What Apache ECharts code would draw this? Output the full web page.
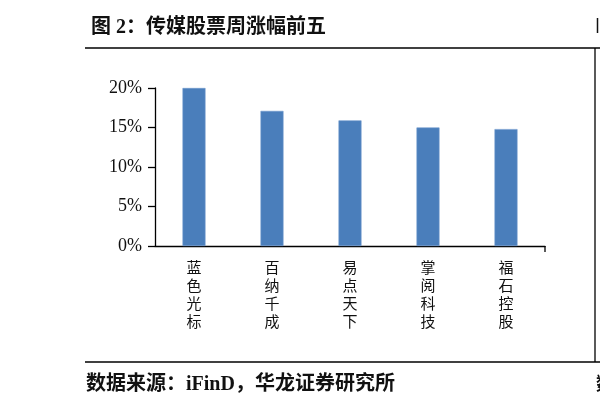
<!DOCTYPE html>
<html>
<head>
<meta charset="utf-8">
<script src="https://cdn.jsdelivr.net/npm/echarts@6/dist/echarts.min.js"></script>
<style>html,body{margin:0;padding:0;background:#fff;}#c{width:600px;height:410px;}</style>
</head>
<body>
<div id="c"></div>
<script>
var categories = ['蓝色光标', '百纳千成', '易点天下', '掌阅科技', '福石控股'];
var gains = [20.0, 17.1, 15.9, 15.0, 14.8];
var yTicks = [0, 5, 10, 15, 20];

var serif = '"Liberation Serif", "Noto Sans CJK SC", serif';
var chart = echarts.init(document.getElementById('c'), null, {renderer: 'canvas'});
var gridLeft = 155, gridRight = 55, gridTop = 88, gridBottom = 164;
chart.setOption({
  animation: false,
  backgroundColor: '#fff',
  title: {
    text: '图 2：传媒股票周涨幅前五',
    left: 86, top: 13,
    textStyle: {fontFamily: serif, fontSize: 20, fontWeight: 'bold', color: '#111'}
  },
  grid: {left: gridLeft, right: gridRight, top: gridTop, bottom: gridBottom, containLabel: false},
  xAxis: {
    type: 'category',
    data: categories,
    axisLine: {lineStyle: {color: '#000', width: 1.3}},
    axisTick: {alignWithLabel: true, length: 6, lineStyle: {color: '#000', width: 1.3}},
    axisLabel: {
      margin: 14,
      interval: 0,
      color: '#111',
      fontFamily: serif,
      fontSize: 15,
      lineHeight: 18,
      verticalAlign: 'top',
      formatter: function (v) { return v.split('').join('\n'); }
    }
  },
  yAxis: {
    type: 'value',
    min: yTicks[0], max: yTicks[yTicks.length - 1], interval: yTicks[1] - yTicks[0],
    axisLine: {show: true, lineStyle: {color: '#000', width: 1.3}},
    axisTick: {show: true, length: 7, lineStyle: {color: '#000', width: 1.3}},
    splitLine: {show: false},
    axisLabel: {margin: 13, color: '#111', fontFamily: serif, fontSize: 18, formatter: '{value}%'}
  },
  series: [{
    type: 'bar',
    data: gains,
    barWidth: 23,
    itemStyle: {color: '#4a7ebb', borderColor: '#6f98cc', borderWidth: 0.6}
  }],
  graphic: [
    {type: 'line', shape: {x1: 85, y1: 48, x2: 600, y2: 48}, style: {stroke: '#000', lineWidth: 1.3}},
    {type: 'line', shape: {x1: 85, y1: 362, x2: 600, y2: 362}, style: {stroke: '#000', lineWidth: 1.3}},
    {type: 'line', shape: {x1: 595, y1: 48, x2: 595, y2: 362}, style: {stroke: '#000', lineWidth: 1.3}},
    {type: 'line', shape: {x1: 600 - gridRight, y1: 410 - gridBottom, x2: 600 - gridRight, y2: 410 - gridBottom + 6}, style: {stroke: '#000', lineWidth: 1.3}},
    {type: 'line', shape: {x1: 597.5, y1: 18, x2: 597.5, y2: 33}, style: {stroke: '#111', lineWidth: 1.5}},
    {type: 'text', left: 86, top: 375, style: {text: '数据来源：iFinD，华龙证券研究所', font: 'bold 20px ' + serif, fill: '#111'}},
    {type: 'text', x: 596, y: 376, style: {text: '数', font: 'bold 18px ' + serif, fill: '#111'}}
  ]
});
</script>
</body>
</html>
